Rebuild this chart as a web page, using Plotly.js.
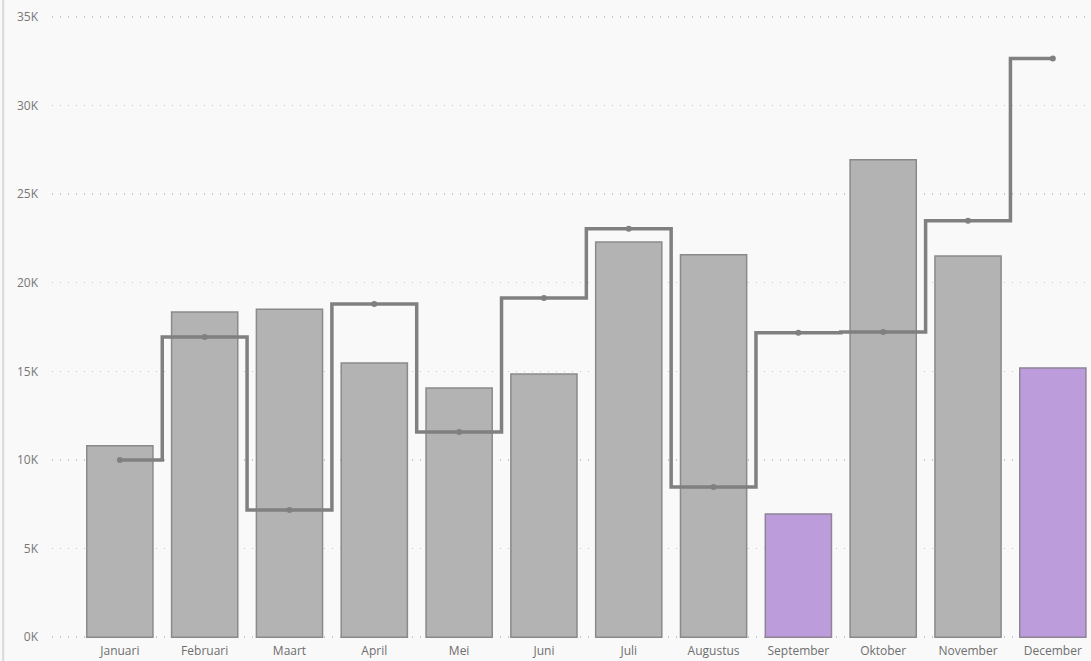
<!DOCTYPE html>
<html>
<head>
<meta charset="utf-8">
<script src="https://cdn.plot.ly/plotly-3.0.1.min.js"></script>
<style>
html,body{margin:0;padding:0;background:#f9f9f9;}
#chart{width:1091px;height:661px;}
</style>
</head>
<body>
<div id="chart"></div>
<script>
const months = ["Januari","Februari","Maart","April","Mei","Juni","Juli","Augustus","September","Oktober","November","December"];
const barValues = [10800, 18350, 18500, 15470, 14060, 14850, 22300, 21570, 6950, 26930, 21510, 15190];
const lineValues = [10000, 16940, 7170, 18800, 11580, 19140, 23040, 8470, 17170, 17220, 23490, 32640];
const highlighted = ["September","December"];
const yTickVals = [0, 5000, 10000, 15000, 20000, 25000, 30000, 35000];
const yTickText = ["0K","5K","10K","15K","20K","25K","30K","35K"];

const barFill = months.map(m => highlighted.includes(m) ? "#bd9cdb" : "#b3b3b3");
const barLine = months.map(m => highlighted.includes(m) ? "#8f8396" : "#8a8a8a");

const traces = [
  {
    type: "bar",
    x: months,
    y: barValues,
    width: 0.78,
    marker: {color: barFill, line: {color: barLine, width: 1.5}},
    hoverinfo: "x+y"
  },
  {
    type: "scatter",
    mode: "lines+markers",
    x: months,
    y: lineValues,
    line: {shape: "hvh", color: "#808080", width: 3.5},
    marker: {color: "#808080", size: 6},
    hoverinfo: "x+y"
  }
];

const layout = {
  width: 1091,
  height: 661,
  margin: {l: 52, r: 0, t: 15, b: 22},
  paper_bgcolor: "#f9f9f9",
  plot_bgcolor: "#f9f9f9",
  showlegend: false,
  bargap: 0.22,
  font: {family: "'Open Sans', 'Segoe UI', sans-serif", size: 12, color: "#777777"},
  xaxis: {
    type: "category",
    range: [-0.8, 11.45],
    showgrid: false,
    zeroline: false,
    showline: false,
    ticks: "",
    tickfont: {size: 12, color: "#6e6e6e"},
    ticklabelstandoff: 3,
    fixedrange: true
  },
  yaxis: {
    range: [-100, 35100],
    tickvals: yTickVals,
    ticktext: yTickText,
    showgrid: true,
    gridcolor: "#c8c8c8",
    griddash: "1px,7px",
    gridwidth: 1.5,
    zeroline: false,
    showline: false,
    ticks: "",
    ticklabelstandoff: 13,
    tickfont: {size: 12, color: "#777777"},
    fixedrange: true
  },
  shapes: [
    {type: "line", xref: "paper", yref: "paper", x0: -0.047, x1: -0.047, y0: -0.05, y1: 1.05,
     line: {color: "#d9d9d9", width: 2}}
  ]
};

Plotly.newPlot("chart", traces, layout, {displayModeBar: false, staticPlot: true});
</script>
</body>
</html>
